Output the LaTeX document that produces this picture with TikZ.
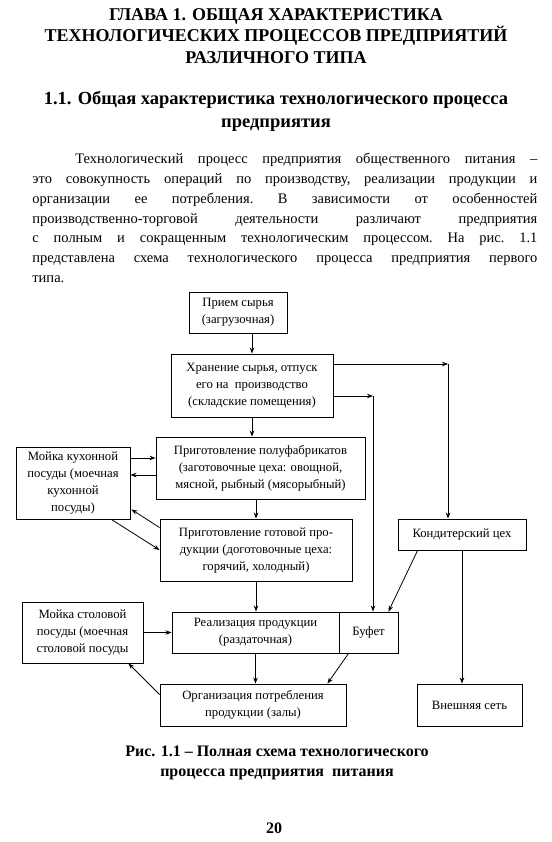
\documentclass[tikz,border=0pt]{standalone}
\usepackage{fontspec}
\setmainfont{Liberation Serif}
\usetikzlibrary{arrows.meta,calc,positioning}

\newcommand{\boxfont}{\fontsize{12.7}{17}\selectfont}
\newcommand{\bodyfont}{\fontsize{14.5}{19.8}\selectfont\frenchspacing\hyphenpenalty=10000\exhyphenpenalty=10000}

\begin{document}
\begin{tikzpicture}[
  x=1pt,y=-1pt,
  line width=0.8pt,
  % every block of the scheme is a plain framed box
  box/.style={draw,line width=0.9pt,align=center,inner sep=2pt,font=\boxfont},
  arr/.style={-{Stealth[length=6pt,width=4.5pt]}},
  chapter/.style={align=center,inner sep=0pt,font=\fontsize{18}{21.5}\selectfont\bfseries},
]
\fill[white] (0,0) rectangle (551,842);
\useasboundingbox (0,0) rectangle (551,842);

%--- page text ---------------------------------------------------------------
\node[chapter] (title) at (276,36) {ГЛАВА 1. ОБЩАЯ ХАРАКТЕРИСТИКА\\ТЕХНОЛОГИЧЕСКИХ ПРОЦЕССОВ ПРЕДПРИЯТИЙ\\РАЗЛИЧНОГО ТИПА};
\node[align=center,inner sep=0pt,font=\fontsize{18.5}{23}\selectfont\bfseries] (sect) at (276,111)
  {1.1. Общая характеристика технологического процесса\\предприятия};
\node[anchor=north west,text width=505pt,align=justify,inner sep=0pt,font=\bodyfont] (body) at (32,153)
  {\noindent\hspace*{43pt}Технологический процесс предприятия общественного питания –\linebreak
   это совокупность операций по производству, реализации продукции и\linebreak
   организации ее потребления. В зависимости от особенностей\linebreak
   производственно-торговой деятельности различают предприятия\linebreak
   с полным и сокращенным технологическим процессом. На рис.~1.1\linebreak
   представлена схема технологического процесса предприятия первого\linebreak
   типа.};

%--- blocks ------------------------------------------------------------------
\node[box,minimum width=98pt,minimum height=41pt] (priem) at (238,312.5) {Прием сырья\\(загрузочная)};
\node[box,minimum width=162pt,minimum height=63pt] (hran) at (252,385.5)
  {Хранение сырья, отпуск\\его на\ \ производство\\(складские помещения)};
\node[box,minimum width=209pt,minimum height=62pt] (polu) at (260.5,468)
  {Приготовление полуфабрикатов\\(заготовочные цеха: овощной,\\мясной, рыбный (мясорыбный)};
\node[box,minimum width=192pt,minimum height=62pt] (gotov) at (256,550)
  {Приготовление готовой про-\\дукции (доготовочные цеха:\\горячий, холодный)};
\node[box,minimum width=114pt,minimum height=72pt] (moikak) at (73,483)
  {Мойка кухонной\\посуды (моечная\\кухонной\\посуды)};
\node[box,minimum width=128pt,minimum height=31pt] (kond) at (462,534.5) {Кондитерский цех};
\node[box,minimum width=121pt,minimum height=61pt] (moikas) at (82.5,632.5)
  {Мойка столовой\\посуды (моечная\\столовой посуды};
\node[box,minimum width=167pt,minimum height=41pt] (real) at (255.5,632.5)
  {Реализация продукции\\(раздаточная)};
\node[box,minimum width=59pt,minimum height=41pt] (bufet) at (368.5,632.5) {Буфет};
\node[box,minimum width=186pt,minimum height=42pt] (org) at (253,705)
  {Организация потребления\\продукции (залы)};
\node[box,minimum width=105pt,minimum height=42pt] (vnesh) at (469.5,705) {Внешняя сеть};

%--- main flow ---------------------------------------------------------------
\draw[arr] (hran.north |- priem.south) -- (hran.north);
\draw[arr] (hran.south) -- (hran.south |- polu.north);
\draw[arr] (gotov.north |- polu.south) -- (gotov.north);
\draw[arr] (gotov.south) -- (gotov.south |- real.north);
\draw[arr] (real.south) -- (real.south |- org.north);

% storage feeds the confectionery shop and the buffet directly
\coordinate (kin) at (448,364);
\coordinate (bin) at (373,396);
\draw[arr] (hran.east |- kin) -- (kin);
\draw[arr] (kin) -- (kin |- kond.north);
\draw[arr] (hran.east |- bin) -- (bin);
\draw[arr] (bin) -- (bin |- bufet.north);
\draw[arr] ($(kond.south west)+(20,0)$) -- ($(bufet.north east)+(-10,0)$);
\draw[arr] (kond.south) -- (kond.south |- vnesh.north);

%--- washing rooms -----------------------------------------------------------
\coordinate (wk1) at ($(moikak.east)+(0,-25)$);
\coordinate (wk2) at ($(moikak.east)+(0,-8)$);
\draw[arr] (wk1) -- (wk1 -| polu.west);
\draw[arr] (wk2 -| polu.west) -- (wk2);
\draw[arr] ($(gotov.north west)+(0,9)$) -- ($(moikak.south east)+(1,-10)$);
\draw[arr] ($(moikak.south east)+(-19,0)$) -- (gotov.west);
\draw[arr] (moikas.east) -- (real.west);
\draw[arr] ($(org.north west)+(0,11)$) -- ($(moikas.south east)+(-15,0)$);
\draw[arr] ($(bufet.south)+(-20,0)$) -- ($(org.north east)+(-19,0)$);

%--- caption -----------------------------------------------------------------
\node[align=center,inner sep=0pt,font=\fontsize{16}{20}\selectfont\bfseries] (caption) at (277,763)
  {Рис. 1.1 – Полная схема технологического\\процесса предприятия\ \ питания};
\node[inner sep=0pt,font=\fontsize{16}{18}\selectfont\bfseries] (pagenum) at (274,828) {20};
\end{tikzpicture}
\end{document}
